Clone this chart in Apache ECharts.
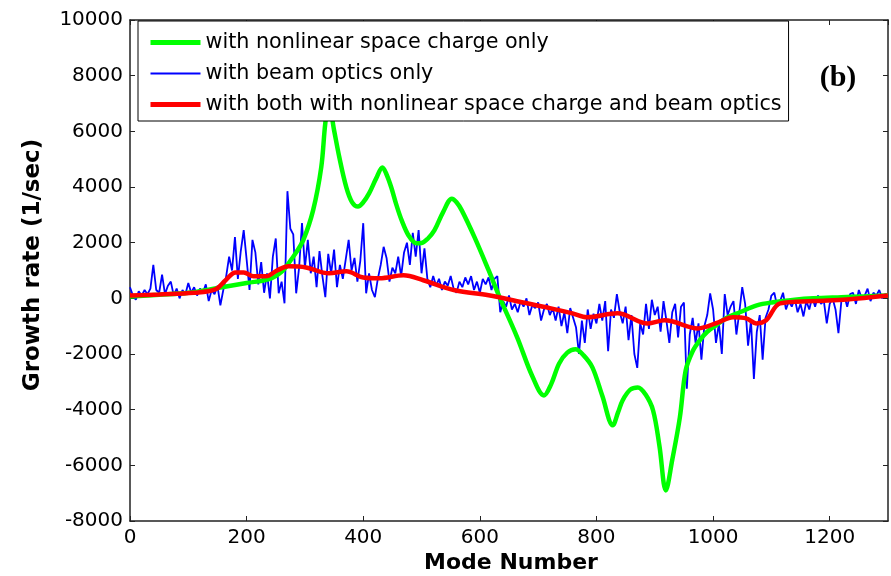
<!DOCTYPE html>
<html><head><meta charset="utf-8">
<script src="https://cdn.jsdelivr.net/npm/echarts@6/dist/echarts.min.js"></script>
<style>html,body{margin:0;padding:0;background:#fff}#c{width:891px;height:576px}</style>
</head><body><div id="c"></div>
<script>
// ---- data ----
const seriesNames = [
  'with nonlinear space charge only',
  'with beam optics only',
  'with both with nonlinear space charge and beam optics'
];
// blue: sampled every 5 modes from mode 0 to 1300
const blueStartMode = 0;
const blueStepMode = 5;
const blueValues = [
  400,100,-50,250,100,300,150,350,1200,300,
  200,850,150,450,600,100,350,0,300,150,
  550,200,400,100,350,200,500,-100,300,150,
  450,-250,300,800,1500,1000,2200,700,1700,2450,
  1400,300,2100,1650,500,1300,200,900,0,1500,
  2150,180,600,-180,3850,2500,2300,180,1100,2700,
  1100,2100,900,1500,400,1700,800,40,1600,900,
  1750,400,1200,700,1400,2100,1000,1450,600,1350,
  2700,180,900,300,40,700,1200,1850,1450,600,
  1100,900,1500,800,1650,2000,1200,2350,1500,2450,
  900,1800,700,400,800,450,700,300,600,450,
  800,350,200,600,400,750,500,800,300,600,
  200,700,500,750,300,700,800,-500,-100,-300,
  100,-400,-200,-500,-100,-300,0,-600,-250,-350,
  -150,-800,-400,-200,-600,-350,-800,-300,-1000,-500,
  -1250,-350,-700,-1050,-2000,-800,-1600,-400,-1100,-550,
  -900,-200,-800,-100,-1900,-400,-700,150,-500,-900,
  -300,-1500,-600,-2000,-2500,-900,-1300,-200,-1100,-50,
  -600,-300,-1200,-100,-800,-1600,-500,-200,-1400,-300,
  -150,-3250,-1300,-700,-1600,-900,-2200,-1000,-600,180,
  -400,-1600,-900,-2000,150,-600,-300,-100,-1300,-500,
  400,-200,-1700,-800,-2900,-1200,-600,-2200,-700,-400,
  100,200,-300,-100,200,-400,-100,-300,0,-500,
  -200,-650,-100,-400,50,-300,100,-200,-100,-900,
  -200,0,-400,-1250,-100,100,-300,150,200,-200,
  300,0,100,350,-100,200,100,300,0,150,
  100
];
const greenModes = [0,50,100,150,200,240,260,272,285,297,314,328,335,341,350,359,371,381,391,400,410,422,433,440,448,457,466,478,491,500,511,522,537,552,560,569,591,615,634,664,690,710,722,736,750,764,778,793,810,828,837,845,858,871,884,897,908,919,930,943,953,965,977,990,1005,1025,1046,1075,1103,1140,1172,1220,1258,1300];
const greenValues = [70,130,200,370,550,700,950,1260,1650,2080,3160,4710,6300,7000,6040,5070,3990,3450,3300,3450,3770,4300,4700,4450,3990,3350,2800,2250,1980,1990,2150,2440,3100,3580,3450,3160,2190,1010,36,-1400,-2800,-3490,-3100,-2340,-1950,-1830,-2050,-2480,-3500,-4560,-4100,-3660,-3280,-3200,-3450,-4020,-5300,-6900,-5800,-4280,-2590,-1900,-1510,-1200,-970,-680,-500,-250,-140,-50,0,40,70,100];
const redModes = [0,50,110,146,164,181,195,212,233,252,272,302,341,371,400,428,469,503,557,615,672,720,759,784,836,888,917,974,1009,1034,1057,1074,1091,1115,1172,1229,1300];
const redValues = [100,140,200,320,650,930,930,790,790,1000,1150,1110,900,970,750,720,830,650,290,110,-140,-350,-540,-680,-540,-900,-790,-1080,-860,-680,-720,-900,-790,-180,-100,-40,100];
const xMin = 0, xMax = 1300, xInterval = 200;
const yMin = -8000, yMax = 10000, yInterval = 2000;
const xTitle = 'Mode Number';
const yTitle = 'Growth rate (1/sec)';
const panelLabel = '(b)';

// ---- build ----
const blueData = blueValues.map((v, i) => [blueStartMode + i * blueStepMode, v]);
const greenData = greenModes.map((m, i) => [m, greenValues[i]]);
const redData = redModes.map((m, i) => [m, redValues[i]]);

const tickFont = {color: '#000', fontFamily: 'DejaVu Sans', fontSize: 20, formatter: v => String(v)};
const axisLine = {show: true, onZero: false, lineStyle: {color: '#222', width: 1.5}};
const axisTick = {show: true, inside: true, length: 5, lineStyle: {color: '#222', width: 1}};

const chart = echarts.init(document.getElementById('c'), null, {renderer: 'canvas'});
chart.setOption({
  animation: false,
  backgroundColor: '#fff',
  grid: {left: 130, right: 3, top: 20, bottom: 55, containLabel: false},
  xAxis: [
    {type: 'value', min: xMin, max: xMax, interval: xInterval, position: 'bottom',
     axisLine, axisTick, splitLine: {show: false},
     axisLabel: Object.assign({margin: 7, showMaxLabel: false}, tickFont)},
    {type: 'value', min: xMin, max: xMax, interval: xInterval, position: 'top',
     axisLine, axisTick, splitLine: {show: false}, axisLabel: {show: false}}
  ],
  yAxis: [
    {type: 'value', min: yMin, max: yMax, interval: yInterval, position: 'left',
     axisLine, axisTick, splitLine: {show: false},
     axisLabel: Object.assign({margin: 7}, tickFont)},
    {type: 'value', min: yMin, max: yMax, interval: yInterval, position: 'right',
     axisLine, axisTick, splitLine: {show: false}, axisLabel: {show: false}}
  ],
  legend: {
    data: [
      {name: seriesNames[0], lineStyle: {width: 5, color: '#00ff00'}},
      {name: seriesNames[1], lineStyle: {width: 2, color: '#0000ff'}},
      {name: seriesNames[2], lineStyle: {width: 5, color: '#ff0000'}}
    ],
    orient: 'vertical',
    left: 138, top: 21,
    padding: [11, 7, 6, 10],
    itemWidth: 50, itemHeight: 14, itemGap: 10,
    backgroundColor: '#fff',
    borderColor: '#000', borderWidth: 1, borderRadius: 0,
    itemStyle: {opacity: 0, borderWidth: 0},
    textStyle: {color: '#000', fontFamily: 'DejaVu Sans', fontSize: 20.7}
  },
  graphic: [
    {type: 'text', x: 511, y: 563, style: {text: xTitle, fill: '#000', font: 'bold 22px "DejaVu Sans"', textAlign: 'center', textVerticalAlign: 'middle'}},
    {type: 'text', x: 33, y: 265, rotation: Math.PI / 2, style: {text: yTitle, fill: '#000', font: 'bold 23px "DejaVu Sans"', textAlign: 'center', textVerticalAlign: 'middle'}},
    {type: 'text', x: 838, y: 78, style: {text: panelLabel, fill: '#000', font: 'bold 30px "Liberation Serif"', textAlign: 'center', textVerticalAlign: 'middle'}}
  ],
  series: [
    {name: seriesNames[0], type: 'line', data: greenData, smooth: 0.35, symbol: 'none', z: 3,
     lineStyle: {color: '#00ff00', width: 4.5}, itemStyle: {color: '#00ff00'}},
    {name: seriesNames[1], type: 'line', data: blueData, smooth: false, symbol: 'none', z: 2,
     lineStyle: {color: '#0000ff', width: 1.8}, itemStyle: {color: '#0000ff'}},
    {name: seriesNames[2], type: 'line', data: redData, smooth: 0.35, symbol: 'none', z: 4,
     lineStyle: {color: '#ff0000', width: 4.5}, itemStyle: {color: '#ff0000'}}
  ]
});
</script></body></html>
